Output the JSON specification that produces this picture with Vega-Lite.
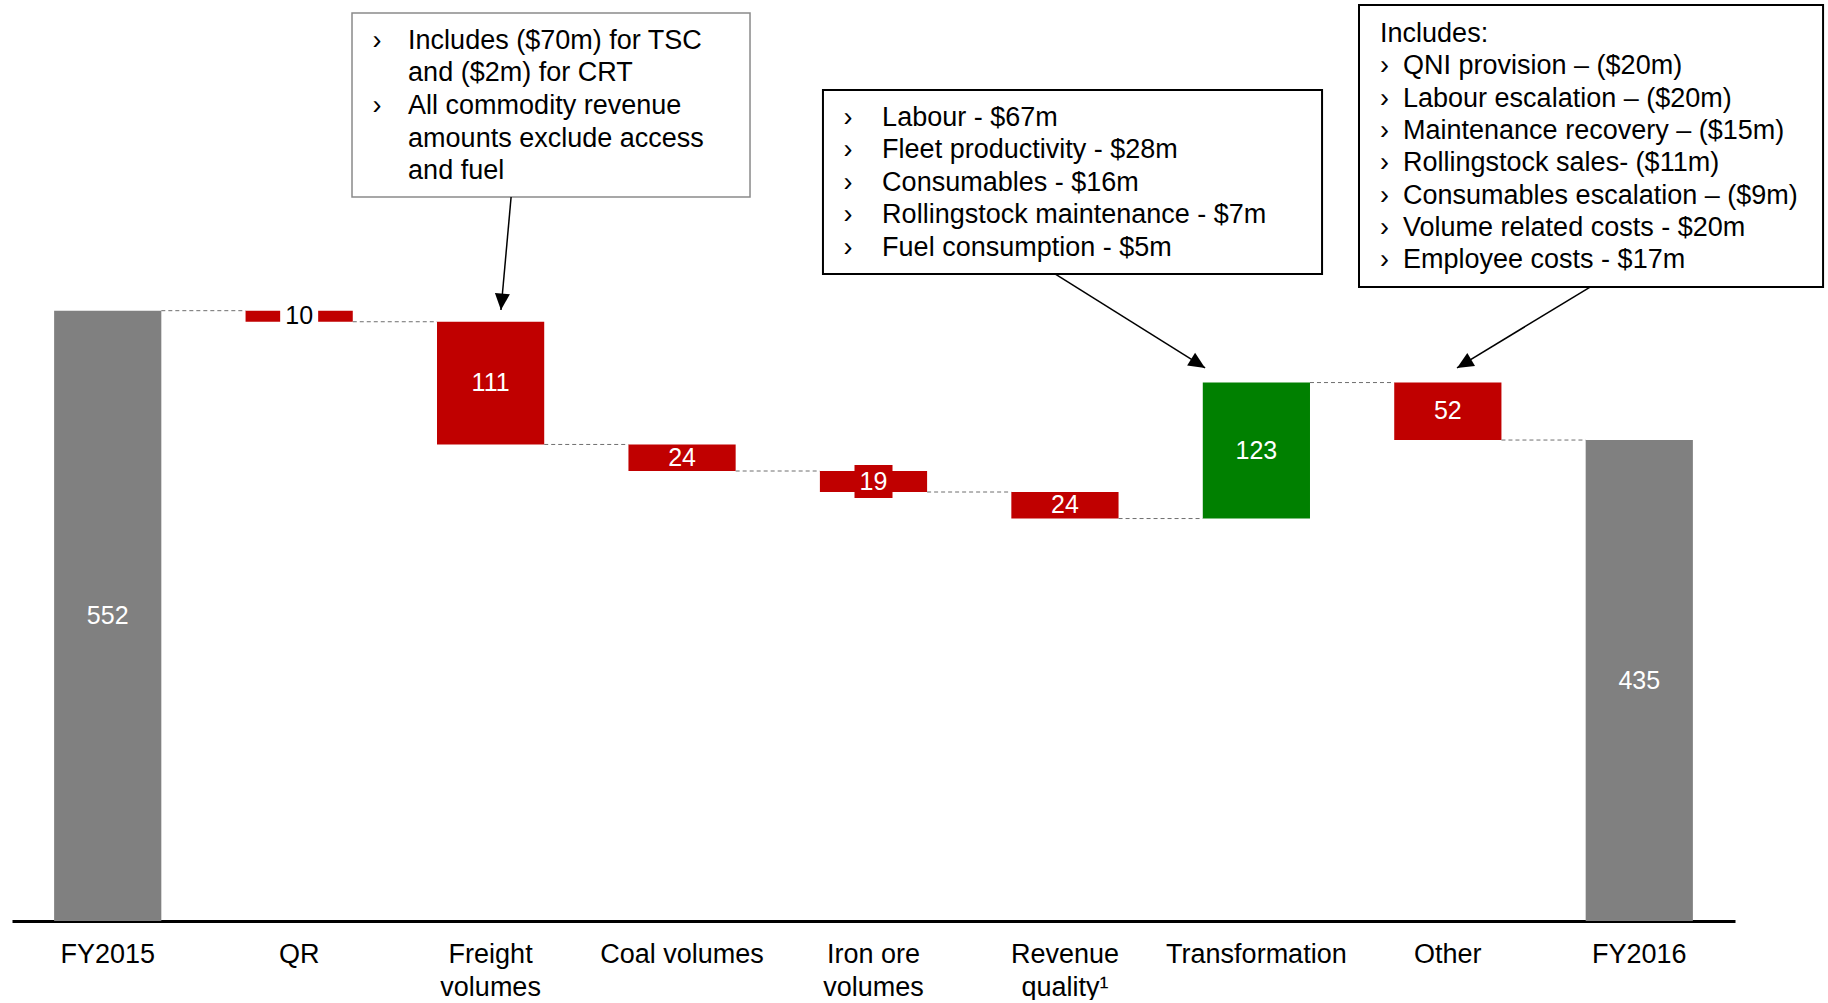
{
  "$schema": "https://vega.github.io/schema/vega-lite/v6.json",
  "width": 1723,
  "height": 921,
  "padding": {"left": 12, "top": 0, "right": 0, "bottom": 0},
  "background": "white",
  "config": {
    "view": {"stroke": null},
    "font": "Liberation Sans",
    "axisX": {
      "title": null,
      "domainColor": "black",
      "domainWidth": 3,
      "ticks": false,
      "grid": false,
      "labelFontSize": 27,
      "labelFont": "Liberation Sans",
      "labelColor": "black",
      "labelPadding": 20,
      "labelLineHeight": 33,
      "labelAngle": 0,
      "labelLimit": 0,
      "labelExpr": "datum.label == 'Freight volumes' ? ['Freight', 'volumes'] : datum.label == 'Iron ore volumes' ? ['Iron ore', 'volumes'] : datum.label == 'Revenue quality¹' ? ['Revenue', 'quality¹'] : datum.label"
    }
  },
  "datasets": {
    "steps": [
      {"cat": "FY2015", "start": 0, "end": 552, "amount": 552, "kind": "total"},
      {"cat": "QR", "start": 552, "end": 542, "amount": 10, "kind": "decrease"},
      {"cat": "Freight volumes", "start": 542, "end": 431, "amount": 111, "kind": "decrease"},
      {"cat": "Coal volumes", "start": 431, "end": 407, "amount": 24, "kind": "decrease"},
      {"cat": "Iron ore volumes", "start": 407, "end": 388, "amount": 19, "kind": "decrease"},
      {"cat": "Revenue quality¹", "start": 388, "end": 364, "amount": 24, "kind": "decrease"},
      {"cat": "Transformation", "start": 364, "end": 487, "amount": 123, "kind": "increase"},
      {"cat": "Other", "start": 487, "end": 435, "amount": 52, "kind": "decrease"},
      {"cat": "FY2016", "start": 0, "end": 435, "amount": 435, "kind": "total"}
    ],
    "links": [
      {"from": "FY2015", "to": "QR", "level": 552},
      {"from": "QR", "to": "Freight volumes", "level": 542},
      {"from": "Freight volumes", "to": "Coal volumes", "level": 431},
      {"from": "Coal volumes", "to": "Iron ore volumes", "level": 407},
      {"from": "Iron ore volumes", "to": "Revenue quality¹", "level": 388},
      {"from": "Revenue quality¹", "to": "Transformation", "level": 364},
      {"from": "Transformation", "to": "Other", "level": 487},
      {"from": "Other", "to": "FY2016", "level": 435}
    ],
    "boxes": [
      {"id": 1, "x1": 1.776, "x2": 3.855, "y1": 654.8, "y2": 821.2},
      {"id": 2, "x1": 4.236, "x2": 6.843, "y1": 585.2, "y2": 751.6},
      {"id": 3, "x1": 7.036, "x2": 9.46, "y1": 573.4, "y2": 828.5}
    ],
    "arrows": [
      {"x": 2.607, "y": 654.8, "xe": 2.554, "ye": 552.6, "heading": 5},
      {"x": 5.448, "y": 585.2, "xe": 6.232, "ye": 500.2, "heading": -58},
      {"x": 8.243, "y": 573.4, "xe": 7.548, "ye": 500.2, "heading": 59}
    ],
    "notes": [
      {"x": 1.883, "y": 796.8, "t": "›"},
      {"x": 2.069, "y": 796.8, "t": "Includes ($70m) for TSC"},
      {"x": 2.069, "y": 767.6, "t": "and ($2m) for CRT"},
      {"x": 1.883, "y": 738.1, "t": "›"},
      {"x": 2.069, "y": 738.1, "t": "All commodity revenue"},
      {"x": 2.069, "y": 708.6, "t": "amounts exclude access"},
      {"x": 2.069, "y": 679.1, "t": "and fuel"},
      {"x": 4.343, "y": 727.2, "t": "›"},
      {"x": 4.545, "y": 727.2, "t": "Labour - $67m"},
      {"x": 4.343, "y": 697.8, "t": "›"},
      {"x": 4.545, "y": 697.8, "t": "Fleet productivity - $28m"},
      {"x": 4.343, "y": 668.4, "t": "›"},
      {"x": 4.545, "y": 668.4, "t": "Consumables - $16m"},
      {"x": 4.343, "y": 639.0, "t": "›"},
      {"x": 4.545, "y": 639.0, "t": "Rollingstock maintenance - $7m"},
      {"x": 4.343, "y": 609.6, "t": "›"},
      {"x": 4.545, "y": 609.6, "t": "Fuel consumption - $5m"},
      {"x": 7.146, "y": 803.1, "t": "Includes:"},
      {"x": 7.146, "y": 773.9, "t": "›"},
      {"x": 7.266, "y": 773.9, "t": "QNI provision – ($20m)"},
      {"x": 7.146, "y": 744.6, "t": "›"},
      {"x": 7.266, "y": 744.6, "t": "Labour escalation – ($20m)"},
      {"x": 7.146, "y": 715.4, "t": "›"},
      {"x": 7.266, "y": 715.4, "t": "Maintenance recovery – ($15m)"},
      {"x": 7.146, "y": 686.1, "t": "›"},
      {"x": 7.266, "y": 686.1, "t": "Rollingstock sales- ($11m)"},
      {"x": 7.146, "y": 656.9, "t": "›"},
      {"x": 7.266, "y": 656.9, "t": "Consumables escalation – ($9m)"},
      {"x": 7.146, "y": 627.6, "t": "›"},
      {"x": 7.266, "y": 627.6, "t": "Volume related costs - $20m"},
      {"x": 7.146, "y": 598.4, "t": "›"},
      {"x": 7.266, "y": 598.4, "t": "Employee costs - $17m"}
    ]
  },
  "resolve": {"scale": {"x": "independent"}, "axis": {"x": "independent"}},
  "layer": [
    {
      "layer": [
        {
          "data": {"name": "steps"},
          "mark": {"type": "bar"},
          "encoding": {
            "x": {"field": "cat", "type": "nominal", "title": null, "sort": null,
              "scale": {"domain": ["FY2015", "QR", "Freight volumes", "Coal volumes", "Iron ore volumes", "Revenue quality¹", "Transformation", "Other", "FY2016"], "paddingInner": 0.44, "paddingOuter": 0.22}},
            "y": {"field": "start", "type": "quantitative", "scale": {"domain": [0, 833], "nice": false, "zero": true}, "axis": null},
            "y2": {"field": "end"},
            "color": {"field": "kind", "type": "nominal", "scale": {"domain": ["total", "decrease", "increase"], "range": ["#808080", "#C00000", "#008000"]}, "legend": null}
          }
        },
        {
          "data": {"name": "links"},
          "mark": {"type": "rule", "strokeDash": [4, 3], "color": "#6f6f6f", "strokeWidth": 1},
          "encoding": {
            "x": {"field": "from", "type": "nominal", "title": null, "bandPosition": 1, "sort": null,
              "scale": {"domain": ["FY2015", "QR", "Freight volumes", "Coal volumes", "Iron ore volumes", "Revenue quality¹", "Transformation", "Other", "FY2016"], "paddingInner": 0.44, "paddingOuter": 0.22}},
            "x2": {"field": "to", "bandPosition": 0},
            "y": {"field": "level", "type": "quantitative", "axis": null}
          }
        },
        {
          "data": {"name": "steps"},
          "transform": [
            {"filter": "datum.cat === 'QR' || datum.cat === 'Iron ore volumes'"},
            {"calculate": "(datum.start + datum.end) / 2", "as": "mid"}
          ],
          "mark": {"type": "point", "filled": true, "opacity": 1, "shape": "M-1,-0.87H1V0.87H-1Z", "size": 1444, "strokeWidth": 0},
          "encoding": {
            "x": {"field": "cat", "type": "nominal", "title": null, "sort": null,
              "scale": {"domain": ["FY2015", "QR", "Freight volumes", "Coal volumes", "Iron ore volumes", "Revenue quality¹", "Transformation", "Other", "FY2016"], "paddingInner": 0.44, "paddingOuter": 0.22}},
            "y": {"field": "mid", "type": "quantitative", "axis": null},
            "fill": {"condition": {"test": "datum.cat === 'QR'", "value": "white"}, "value": "#C00000"}
          }
        },
        {
          "data": {"name": "steps"},
          "transform": [{"calculate": "(datum.start + datum.end) / 2", "as": "mid"}],
          "mark": {"type": "text", "fontSize": 25, "font": "Liberation Sans", "baseline": "middle", "align": "center"},
          "encoding": {
            "x": {"field": "cat", "type": "nominal", "title": null, "sort": null,
              "scale": {"domain": ["FY2015", "QR", "Freight volumes", "Coal volumes", "Iron ore volumes", "Revenue quality¹", "Transformation", "Other", "FY2016"], "paddingInner": 0.44, "paddingOuter": 0.22}},
            "y": {"field": "mid", "type": "quantitative", "axis": null},
            "text": {"field": "amount", "type": "quantitative"},
            "color": {"condition": {"test": "datum.cat === 'QR'", "value": "black"}, "value": "white"}
          }
        }
      ]
    },
    {
      "layer": [
        {
          "data": {"name": "boxes"},
          "mark": {"type": "rect", "fill": "white"},
          "encoding": {
            "x": {"field": "x1", "type": "quantitative", "scale": {"domain": [0, 9], "nice": false, "zero": false}, "axis": null},
            "x2": {"field": "x2"},
            "y": {"field": "y1", "type": "quantitative", "axis": null},
            "y2": {"field": "y2"},
            "stroke": {"condition": {"test": "datum.id === 1", "value": "#8a8a8a"}, "value": "black"},
            "strokeWidth": {"condition": {"test": "datum.id === 1", "value": 1.5}, "value": 2}
          }
        },
        {
          "data": {"name": "arrows"},
          "mark": {"type": "rule", "color": "black", "strokeWidth": 1.5},
          "encoding": {
            "x": {"field": "x", "type": "quantitative", "axis": null},
            "x2": {"field": "xe"},
            "y": {"field": "y", "type": "quantitative", "axis": null},
            "y2": {"field": "ye"}
          }
        },
        {
          "data": {"name": "arrows"},
          "mark": {"type": "point", "filled": true, "opacity": 1, "color": "black", "shape": "M0,0L-0.5,-1.1L0.5,-1.1Z", "size": 900, "strokeWidth": 0},
          "encoding": {
            "x": {"field": "xe", "type": "quantitative", "axis": null},
            "y": {"field": "ye", "type": "quantitative", "axis": null},
            "angle": {"field": "heading", "type": "quantitative", "scale": null}
          }
        },
        {
          "data": {"name": "notes"},
          "mark": {"type": "text", "fontSize": 27, "font": "Liberation Sans", "baseline": "middle", "align": "left", "color": "black", "dy": 1},
          "encoding": {
            "x": {"field": "x", "type": "quantitative", "axis": null},
            "y": {"field": "y", "type": "quantitative", "axis": null},
            "text": {"field": "t", "type": "nominal"}
          }
        }
      ]
    }
  ]
}
